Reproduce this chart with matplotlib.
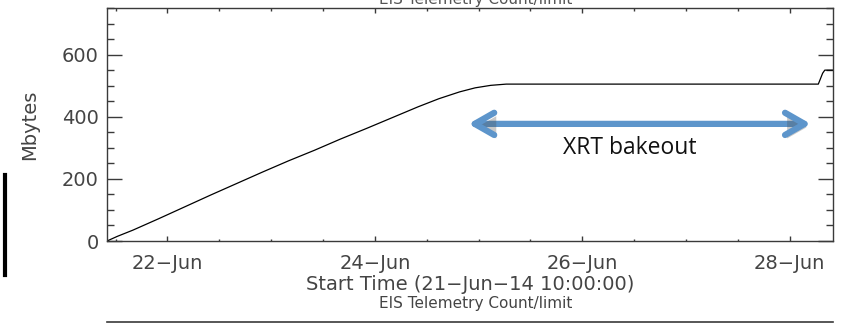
import numpy as np
import pandas as pd
import matplotlib
matplotlib.use('Agg')
import matplotlib.pyplot as plt
import matplotlib.dates as mdates
import matplotlib.patheffects as pe
from matplotlib.patches import FancyArrowPatch
from matplotlib.lines import Line2D

# hours after the start time (21-Jun-14 10:00:00) and telemetry count
start_time = pd.Timestamp('2014-06-21 10:00:00')
hours = [0, 2.4, 6, 12, 18, 24, 30, 36, 42, 48, 54, 60, 66, 72, 76.8, 81.6,
         85.2, 88.8, 92.4, 96, 164.6, 165.6, 166.1, 168]
mbytes = [0, 15, 35, 72, 110, 148, 185, 222, 258, 292, 328, 362, 397, 432, 458,
          480, 493, 501, 505, 505, 505, 540, 550, 550]

y_ticks = [0, 200, 400, 600]
arrow_hours = (83, 163.5)
arrow_level = 377
label_text = 'XRT bakeout'

ink = '#3a3a3a'
times = start_time + pd.to_timedelta(hours, unit='h')

fig = plt.figure(figsize=(8.41, 3.26), dpi=100)
ax = fig.add_axes([0.1272, 0.2607, 0.8633, 0.7148])

ax.plot(times, mbytes, color='black', linewidth=0.9)

ax.set_xlim(start_time, start_time + pd.Timedelta(hours=168))
ax.set_ylim(0, 750)
ax.set_yticks(y_ticks)
ax.yaxis.set_minor_locator(matplotlib.ticker.MultipleLocator(50))
ax.xaxis.set_major_locator(mdates.DayLocator(bymonthday=[22, 24, 26, 28]))
ax.xaxis.set_minor_locator(mdates.HourLocator(byhour=[0, 12]))
ax.xaxis.set_major_formatter(mdates.DateFormatter('%d\u2212%b'))

for s in ax.spines.values():
    s.set_color(ink)
    s.set_linewidth(1.0)

ax.tick_params(axis='both', which='both', direction='in', colors=ink,
               labelcolor='#444444', labelsize=14, top=True, right=True)
ax.tick_params(axis='y', which='major', length=11, width=1, pad=6)
ax.tick_params(axis='y', which='minor', length=5, width=1)
ax.tick_params(axis='x', which='major', length=3.5, width=1, pad=9)
ax.tick_params(axis='x', which='minor', length=1.8, width=1)

ax.set_ylabel('Mbytes', fontsize=14, color='#444444', labelpad=16)
ax.set_xlabel('Start Time (21\u2212Jun\u221214 10:00:00)', fontsize=14,
              color='#444444', labelpad=2)

# double arrow marking the bakeout
x0 = mdates.date2num(start_time + pd.Timedelta(hours=arrow_hours[0]))
x1 = mdates.date2num(start_time + pd.Timedelta(hours=arrow_hours[1]))
arrow = FancyArrowPatch((x0, arrow_level), (x1, arrow_level),
                        arrowstyle='<->,head_length=14,head_width=8',
                        color='#5d95cb', linewidth=4.5, capstyle='round',
                        joinstyle='round', mutation_scale=1)
arrow.set_path_effects([pe.SimplePatchShadow(offset=(1.5, -2.5), alpha=0.3),
                        pe.Normal()])
ax.add_patch(arrow)
xm = mdates.date2num(start_time + pd.Timedelta(hours=121))
ax.text(xm, 300, label_text, fontsize=16.5, family='Open Sans',
        ha='center', va='center', color='#111111')

# pieces of the neighbouring panels
fig.text(0.566, 1.003, 'EIS Telemetry Count/limit', fontsize=11,
         color='#555555', ha='center', va='center')
fig.text(0.566, 0.07, 'EIS Telemetry Count/limit', fontsize=11,
         color='#444444', ha='center', va='center')
fig.add_artist(Line2D([0.1272, 0.9905], [0.012, 0.012], color=ink,
                      linewidth=1.2, transform=fig.transFigure))
fig.add_artist(Line2D([0.0065, 0.0065], [0.157, 0.463], color='black',
                      linewidth=3, transform=fig.transFigure))

fig.savefig('out.png', dpi=100)
